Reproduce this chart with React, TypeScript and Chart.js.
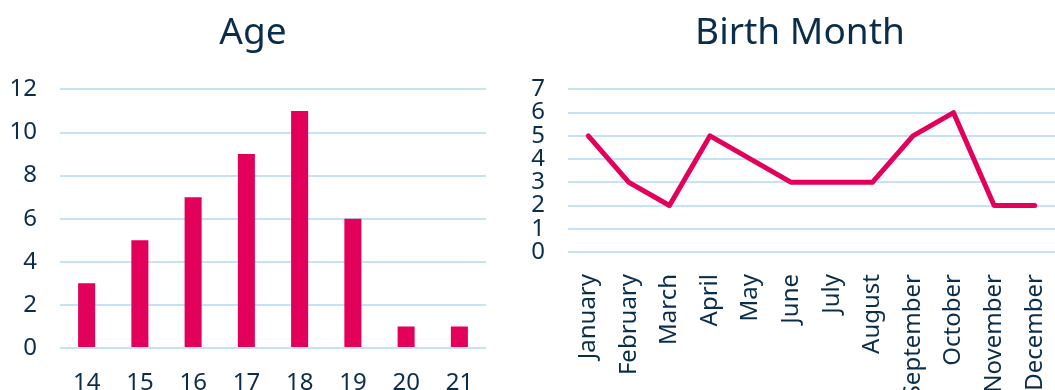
import React, { useEffect, useRef } from "react";
import { Chart, registerables } from "chart.js";

Chart.register(...registerables);

const ageLabels = ["14", "15", "16", "17", "18", "19", "20", "21"];
const ageCounts = [3, 5, 7, 9, 11, 6, 1, 1];

const monthLabels = [
  "January", "February", "March", "April", "May", "June",
  "July", "August", "September", "October", "November", "December",
];
const monthCounts = [5, 3, 2, 5, 4, 3, 3, 3, 5, 6, 2, 2];

const PINK = "#e3005a";
const GRID = "#c4e3f8";
const TEXT = "#0b2d4c";
const FONT = "'Noto Sans', sans-serif";
const TICK_SIZE = 24;

function titleOpts(text: string) {
  return {
    display: true,
    text,
    color: TEXT,
    font: { family: FONT, size: 37, weight: "normal" as const, lineHeight: 1.2 },
    padding: { top: 11, bottom: 34 },
  };
}

function spacerAxis(width: number) {
  return {
    position: "right" as const,
    display: true,
    grid: { display: false, drawTicks: false },
    border: { display: false },
    ticks: { display: false },
    afterFit: (s: any) => { s.width = width; },
  };
}

function AgeChart() {
  const ref = useRef<HTMLCanvasElement>(null);
  useEffect(() => {
    const chart = new Chart(ref.current!, {
      type: "bar",
      data: {
        labels: ageLabels,
        datasets: [
          {
            data: ageCounts,
            backgroundColor: PINK,
            barPercentage: 0.32,
            categoryPercentage: 1,
          },
        ],
      },
      options: {
        responsive: false,
        animation: false,
        layout: { padding: 0 },
        plugins: { legend: { display: false }, title: titleOpts("Age"), tooltip: { enabled: false } },
        scales: {
          x: {
            grid: { display: false },
            border: { display: false },
            ticks: { color: TEXT, font: { family: FONT, size: TICK_SIZE }, padding: 13, maxRotation: 0 },
            afterFit: (s: any) => { s.height = 52; },
          },
          y: {
            position: "left",
            min: 0,
            max: 12,
            ticks: { stepSize: 2, autoSkip: false, color: TEXT, font: { family: FONT, size: TICK_SIZE }, padding: 23 },
            grid: { color: GRID, lineWidth: 2, drawTicks: false },
            border: { display: false },
            afterFit: (s: any) => { s.width = 60; },
          },
          spacer: spacerAxis(20),
        },
      },
    });
    return () => chart.destroy();
  }, []);
  return (
    <canvas
      ref={ref}
      width={506}
      height={400}
      style={{ position: "absolute", left: 0, top: 0, width: 506, height: 400 }}
    />
  );
}

function MonthChart() {
  const ref = useRef<HTMLCanvasElement>(null);
  useEffect(() => {
    const chart = new Chart(ref.current!, {
      type: "line",
      data: {
        labels: monthLabels,
        datasets: [
          {
            data: monthCounts,
            borderColor: PINK,
            borderWidth: 5,
            pointRadius: 0,
            tension: 0,
            borderJoinStyle: "round",
            borderCapStyle: "round",
          },
        ],
      },
      options: {
        responsive: false,
        animation: false,
        layout: { padding: 0 },
        plugins: { legend: { display: false }, title: titleOpts("Birth Month"), tooltip: { enabled: false } },
        scales: {
          x: {
            offset: true,
            grid: { display: false },
            border: { display: false },
            ticks: {
              color: TEXT,
              font: { family: FONT, size: TICK_SIZE },
              padding: 14,
              minRotation: 90,
              maxRotation: 90,
              autoSkip: false,
            },
            afterFit: (s: any) => { s.height = 148; },
          },
          y: {
            position: "left",
            min: 0,
            max: 7,
            ticks: { stepSize: 1, autoSkip: false, color: TEXT, font: { family: FONT, size: TICK_SIZE }, padding: 23 },
            grid: { color: GRID, lineWidth: 2, drawTicks: false },
            border: { display: false },
            afterFit: (s: any) => { s.width = 48; },
          },
          spacer: spacerAxis(25),
        },
      },
    });
    return () => chart.destroy();
  }, []);
  return (
    <canvas
      ref={ref}
      width={560}
      height={400}
      style={{ position: "absolute", left: 520, top: 0, width: 560, height: 400 }}
    />
  );
}

export default function App() {
  return (
    <div
      style={{
        position: "fixed",
        left: 0,
        top: 0,
        width: 1055,
        height: 390,
        overflow: "hidden",
        background: "#ffffff",
      }}
    >
      <AgeChart />
      <MonthChart />
    </div>
  );
}
